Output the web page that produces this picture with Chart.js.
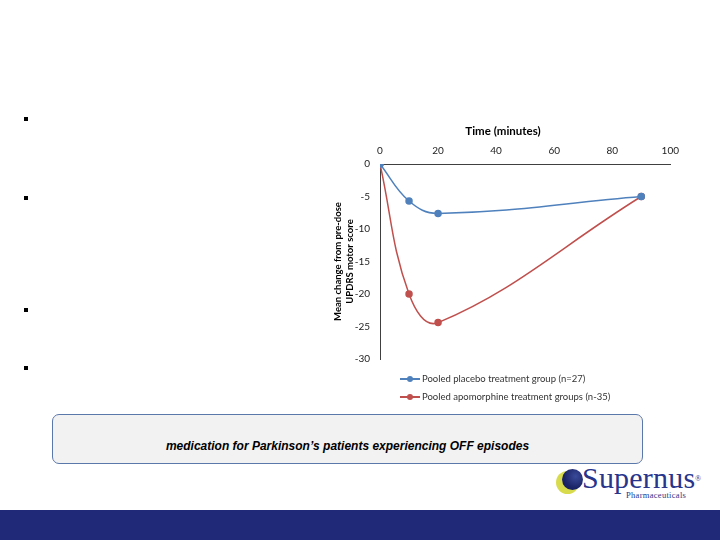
<!DOCTYPE html>
<html><head><meta charset="utf-8">
<script src="https://cdn.jsdelivr.net/npm/chart.js@4.4.0/dist/chart.umd.min.js"></script>
<style>
html,body{margin:0;padding:0;background:#fff;}
#page{position:relative;width:720px;height:540px;overflow:hidden;background:#fff;font-family:'Liberation Sans',Arial,sans-serif;}
.bullet{position:absolute;left:24px;width:4px;height:4px;background:#000;}
#chartWrap{position:absolute;left:320px;top:115px;width:366px;height:290px;}
#box{position:absolute;left:52px;top:414px;width:589px;height:48px;border:1px solid #5b78ab;border-radius:7px;background:#f2f2f2;}
#box span{position:absolute;left:0;right:0;top:24px;line-height:14px;text-align:center;font:italic bold 12px 'Liberation Sans',Arial,sans-serif;color:#000;}
#footer{position:absolute;left:0;top:510px;width:720px;height:30px;background:#1f2977;}
#logoY{position:absolute;left:556px;top:471px;width:23px;height:23px;border-radius:50%;background:#d8db4c;}
#logoB{position:absolute;left:562px;top:469px;width:21px;height:21px;border-radius:50%;background:radial-gradient(circle at 65% 35%,#3a4a9a 0%,#1b2466 60%,#151c55 100%);}
#logoT{position:absolute;left:582px;top:462px;font:30px 'Liberation Serif','DejaVu Serif',serif;color:#28358c;line-height:32px;letter-spacing:0.2px;}
#logoR{position:absolute;left:695px;top:474px;font:8px 'Liberation Serif',serif;color:#28358c;}
#logoP{position:absolute;left:626px;top:490px;font:8.5px 'Liberation Serif',serif;color:#28358c;letter-spacing:0.3px;}
</style></head>
<body><div id="page">
<div class="bullet" style="top:117px"></div>
<div class="bullet" style="top:196px"></div>
<div class="bullet" style="top:308px"></div>
<div class="bullet" style="top:366px"></div>
<div id="chartWrap"><canvas id="c"></canvas></div>
<div id="box"><span>medication for Parkinson’s patients experiencing OFF episodes</span></div>
<div id="logoY"></div><div id="logoB"></div>
<div id="logoT">Supernus</div><div id="logoR">®</div><div id="logoP">Pharmaceuticals</div>
<div id="footer"></div>
</div>
<script>
const timeMinutes = [0, 10, 20, 90];
const placeboChange = [0, -5.7, -7.6, -5.0];
const apomorphineChange = [0, -20.0, -24.4, -5.0];
const seriesNames = ['Pooled placebo treatment group (n=27)', 'Pooled apomorphine treatment groups (n-35)'];
const seriesColors = ['#4f81bd', '#c0504d'];
const xTitle = 'Time (minutes)';
const yTitle = ['Mean change from pre-dose', 'UPDRS motor score'];

const toPts = vals => timeMinutes.map((t, i) => ({x: t, y: vals[i]}));

const extras = {
  id: 'extras',
  afterDraw(chart) {
    const ctx = chart.ctx;
    const ca = chart.chartArea;
    ctx.save();
    // top axis title
    ctx.fillStyle = '#000';
    ctx.font = 'bold 11.5px Lato';
    ctx.textAlign = 'center'; ctx.textBaseline = 'middle';
    ctx.fillText(xTitle, 183, 16);
    // legend
    chart.data.datasets.forEach((d, i) => {
      const y = ca.bottom + 20 + i * 18;
      const x0 = 80, x1 = 100;
      ctx.strokeStyle = d.borderColor; ctx.lineWidth = 2;
      ctx.beginPath(); ctx.moveTo(x0, y); ctx.lineTo(x1, y); ctx.stroke();
      ctx.fillStyle = d.borderColor;
      ctx.beginPath(); ctx.arc((x0 + x1) / 2, y, 3, 0, Math.PI * 2); ctx.fill();
      ctx.fillStyle = '#333';
      ctx.font = '9.5px Lato';
      ctx.textBaseline = 'middle'; ctx.textAlign = 'left';
      ctx.fillText(d.label, x1 + 2, y);
    });
    ctx.restore();
  }
};

new Chart(document.getElementById('c'), {
  type: 'line',
  data: {
    datasets: [
      {label: seriesNames[0], data: toPts(placeboChange), borderColor: seriesColors[0], backgroundColor: seriesColors[0], borderWidth: 1.5, pointRadius: 3, pointHoverRadius: 3, tension: 0.4, fill: false},
      {label: seriesNames[1], data: toPts(apomorphineChange), borderColor: seriesColors[1], backgroundColor: seriesColors[1], borderWidth: 1.5, pointRadius: 3, pointHoverRadius: 3, tension: 0.4, fill: false}
    ]
  },
  options: {
    responsive: true, maintainAspectRatio: false, animation: false,
    layout: {padding: {left: 0, right: 15, top: 28, bottom: 46}},
    plugins: {
      legend: {display: false},
      tooltip: {enabled: false},
      title: {display: false}
    },
    scales: {
      x: {
        type: 'linear', position: 'top', min: 0, max: 100,
        ticks: {stepSize: 20, color: '#222', font: {family: 'Lato', size: 10}, padding: 7, maxRotation: 0},
        grid: {display: false, drawTicks: false, tickLength: 0},
        border: {display: true, color: '#404040', width: 1},
        afterFit: s => { s.height = 21; }
      },
      y: {
        min: -30, max: 0,
        ticks: {stepSize: 5, color: '#222', font: {family: 'Lato', size: 10}, padding: 10},
        grid: {display: false, drawTicks: false, tickLength: 0},
        border: {display: true, color: '#404040', width: 1},
        title: {display: true, text: yTitle, color: '#000', font: {family: 'Lato', size: 9.5, weight: 'bold', lineHeight: 1.25}, padding: {top: 12, bottom: 0}},
        afterFit: s => { s.width = 60; }
      }
    }
  },
  plugins: [extras]
});
</script>
</body></html>
